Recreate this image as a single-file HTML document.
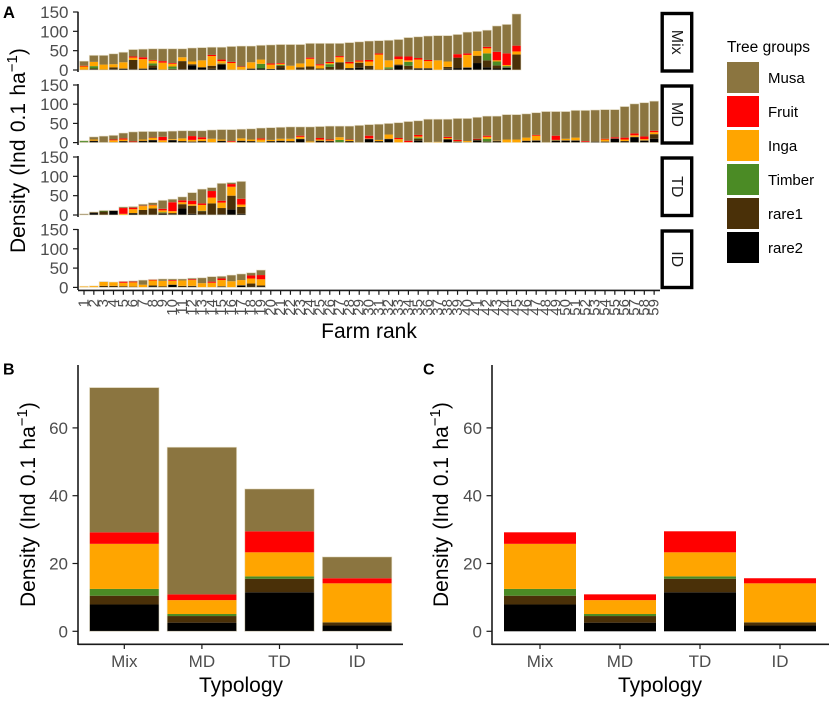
<!DOCTYPE html>
<html lang="en">
<head>
<meta charset="utf-8">
<title>Tree density by farm rank and typology</title>
<style>
html,body{margin:0;padding:0;background:#fff;width:829px;height:702px;overflow:hidden}
svg{display:block;font-family:"Liberation Sans",Arial,sans-serif}
</style>
</head>
<body>
<svg id="chart" xmlns="http://www.w3.org/2000/svg" width="829" height="702" viewBox="0 0 829 702"></svg>
<script>
// Series
const seriesNames = ['rare2','rare1','Timber','Inga','Fruit','Musa'];
const seriesColors = ['#000000','#4a3008','#4b8b25','#ffa500','#ff0000','#8b7540'];
const legendOrder = ['Musa','Fruit','Inga','Timber','rare1','rare2'];

// Panel A - Mix
const mixRare2 = [0,2,1,2,3,2,3,5,1,1,2,12,7,3,13,0,0,3,4,3,4,0,2,1,2,1,2,4,6,2,1,1,12,2,3,3,0,3,5,6,18,7,4,6,0];
const mixRare1 = [1,2,0,5,1,24,1,7,0,2,21,3,0,8,3,1,1,1,0,0,7,0,5,8,2,7,18,1,13,9,0,2,2,9,2,2,0,5,27,1,19,18,8,1,40];
const mixTimber = [0,6,0,0,0,0,0,5,0,6,0,0,0,0,1,0,0,0,12,0,2,0,0,0,0,7,0,0,0,0,0,4,0,10,0,0,0,0,0,0,0,18,10,3,0];
const mixInga = [8,11,13,8,16,6,24,7,18,7,10,7,18,25,6,17,7,16,11,11,3,11,10,20,8,3,13,12,3,11,39,18,14,4,22,18,25,14,0,32,12,13,3,3,8];
const mixFruit = [2,0,0,0,0,3,5,2,4,2,0,0,0,3,4,3,1,0,0,3,2,0,0,3,3,3,3,4,3,4,3,0,7,10,4,3,0,0,9,4,0,4,22,30,15];
const mixMusa = [12,17,24,27,26,18,21,29,32,37,22,35,33,20,32,40,53,42,37,48,48,55,49,37,54,48,33,50,48,49,33,52,44,49,55,62,64,67,51,55,51,43,67,75,82];

// Panel A - MD
const mdRare2 = [0,4,0,0,3,0,4,6,0,6,3,2,3,0,4,0,4,3,0,3,4,3,9,0,4,3,1,3,0,9,3,9,0,0,5,0,0,8,2,0,5,2,3,0,0,4,5,0,5,5,5,1,2,2,10,3,14,5,10];
const mdRare1 = [1,1,1,1,1,1,1,1,1,1,1,1,1,1,1,0,1,1,1,1,1,1,1,0,1,1,0,1,0,1,1,1,0,0,5,0,0,1,1,1,3,1,1,0,0,1,1,0,1,1,1,1,1,1,1,1,1,1,12];
const mdTimber = [3,0,0,0,0,0,0,0,0,0,0,0,0,0,0,0,0,0,1,0,0,0,0,0,0,0,6,0,0,0,0,0,0,0,3,0,0,0,0,0,0,7,0,0,0,0,0,0,0,0,0,0,0,0,0,0,0,0,0];
const mdInga = [0,3,0,5,4,0,3,5,5,2,7,4,5,9,3,2,6,4,6,3,5,6,5,3,3,2,7,3,0,1,3,11,9,1,3,1,2,3,1,3,0,5,1,8,8,8,12,0,1,4,7,0,0,5,0,4,4,3,5];
const mdFruit = [0,0,0,2,3,2,0,1,9,0,0,10,5,0,0,2,0,0,3,0,0,0,3,0,4,2,0,1,0,7,0,0,3,4,4,0,0,3,3,0,2,3,0,0,0,0,2,0,11,0,0,2,0,2,3,5,5,7,4];
const mdMusa = [1,7,16,11,14,25,21,16,14,21,20,14,17,23,26,30,24,28,27,32,30,31,23,38,30,35,29,35,45,29,41,29,40,50,37,60,59,46,56,59,56,51,64,65,65,62,58,81,63,71,71,80,82,76,72,81,77,88,77];

// Panel A - TD
const tdRare2 = [0,5,0,11,0,4,1,1,3,2,17,3,2,1,2,14,3];
const tdRare1 = [1,2,9,1,0,1,12,16,2,3,11,21,8,29,16,36,18];
const tdTimber = [0,0,2,0,0,0,0,0,2,0,0,0,1,0,0,0,0];
const tdInga = [0,0,0,0,3,10,10,8,5,5,5,4,15,15,14,23,6];
const tdFruit = [0,0,0,0,15,4,1,1,4,23,5,9,4,17,5,7,15];
const tdMusa = [2,1,1,0,3,3,4,6,22,8,9,21,37,9,45,4,45];

// Panel A - ID
const idRare2 = [0,0,0,0,0,0,0,3,0,7,0,2,0,0,2,0,4,2,3];
const idRare1 = [0,0,4,4,3,2,0,2,3,0,4,2,0,0,1,0,2,8,2];
const idTimber = [0,0,0,0,0,0,0,0,0,0,0,0,0,0,0,0,0,0,0];
const idInga = [3,4,10,10,9,11,7,13,14,10,14,15,11,12,16,16,13,13,16];
const idFruit = [0,0,0,0,3,2,0,2,0,2,0,2,0,3,4,0,0,8,11];
const idMusa = [0,0,1,0,1,2,12,1,5,3,4,3,14,13,6,16,16,7,13];

// Panels B and C - mean density by typology
const typologies = ['Mix','MD','TD','ID'];
const meanRare2 = [7.9,2.55,11.5,1.7];
const meanRare1 = [2.6,1.95,4,0.9];
const meanTimber = [2,0.6,0.7,0.05];
const meanInga = [13.3,4.1,7.1,11.5];
const meanFruit = [3.4,1.7,6.2,1.5];
const meanMusa = [42.7,43.4,12.5,6.3];

// Ticks
const facetTicks = [0,50,100,150];
const typologyTicks = [0,20,40,60];
const rankLabels = ['1','2','3','4','5','6','7','8','9','10','11','12','13','14','15','16','17','18','19','20','21','22','23','24','25','26','27','28','29','30','31','32','33','34','35','36','37','38','39','40','41','42','43','44','45','46','47','48','49','50','51','52','53','54','55','56','57','58','59'];

const svg = document.getElementById('chart');
const NS = 'http://www.w3.org/2000/svg';
const TICK_COLOR = '#4d4d4d';
const AXIS_COLOR = '#1a1a1a';

function make(tag, attrs, parent, text) {
  const el = document.createElementNS(NS, tag);
  for (const k in attrs) el.setAttribute(k, attrs[k]);
  if (text !== undefined) el.textContent = text;
  (parent || svg).appendChild(el);
  return el;
}
function label(name, attrs, text, parent) {
  const el = make('text', attrs, parent, text);
  
  
  return el;
}
function line(name, x1, y1, x2, y2, width, parent) {
  const el = make('line', {x1:x1, y1:y1, x2:x2, y2:y2, stroke:AXIS_COLOR, 'stroke-width':width}, parent);
  
  
  return el;
}
function group(name) {
  const g = make('g', {});
  
  
  return g;
}
function stackedBar(parent, stacks, i, xCenter, width, yScale, barName, outline) {
  const g = make('g', {}, parent);
  
  
  let cum = 0;
  stacks.forEach(function (values, s) {
    const v = values[i];
    if (v > 0) {
      const r = make('rect', {x:xCenter - width / 2, y:yScale(cum + v), width:width, height:yScale(cum) - yScale(cum + v), fill:seriesColors[s]}, g);
      
      
    }
    cum += v;
  });
  if (cum > 0) {
    const o = make('rect', {x:xCenter - width / 2, y:yScale(cum), width:width, height:yScale(0) - yScale(cum), fill:'none', stroke:outline, 'stroke-width':0.8}, g);
    
    
  }
}
function densityTitle(name, x, y) {
  const t = label(name, {x:x, y:y, 'font-size':21, 'word-spacing':1.5, fill:'#000', transform:'rotate(-90 ' + x + ' ' + y + ')'}, 'Density (Ind 0.1 ha');
  make('tspan', {dy:-8, 'font-size':15}, t, '\u22121');
  make('tspan', {dy:8}, t, ')');
}

// ---------- Panel A ----------
const facets = [
  {name:'Mix', stacks:[mixRare2,mixRare1,mixTimber,mixInga,mixFruit,mixMusa], zero:70, top:12, axisTop:11.7, axisBottom:72, stripTop:12, stripBottom:72.5},
  {name:'MD', stacks:[mdRare2,mdRare1,mdTimber,mdInga,mdFruit,mdMusa], zero:142.6, top:85, axisTop:84, axisBottom:145, stripTop:84.5, stripBottom:144.5},
  {name:'TD', stacks:[tdRare2,tdRare1,tdTimber,tdInga,tdFruit,tdMusa], zero:215, top:157, axisTop:156, axisBottom:217, stripTop:156.5, stripBottom:217},
  {name:'ID', stacks:[idRare2,idRare1,idTimber,idInga,idFruit,idMusa], zero:287.4, top:229.5, axisTop:229, axisBottom:290, stripTop:229.5, stripBottom:289}
];
const maxFacet = facetTicks[facetTicks.length - 1];
const rankX = function (i) { return 84 + i * 9.83; };

const panelA = group('panel-a');
label('panel-a-tag', {x:3, y:18, 'font-size':16.5, 'font-weight':'bold', fill:'#000'}, 'A', panelA);

facets.forEach(function (f) {
  const key = f.name.toLowerCase();
  const yScale = function (v) { return f.zero - v * (f.zero - f.top) / maxFacet; };
  const g = make('g', {}, panelA);
  
  
  f.stacks[0].forEach(function (_, i) {
    stackedBar(g, f.stacks, i, rankX(i), 9, yScale, key + '-bar-' + (i + 1), 'rgba(235,228,205,0.75)');
  });
  line(key + '-y-axis', 78, f.axisTop, 78, f.axisBottom, 1.6, g);
  facetTicks.forEach(function (t) {
    line(key + '-y-tick-' + t, 73, yScale(t), 78, yScale(t), 1.2, g);
    label(key + '-y-tick-label-' + t, {x:68.5, y:yScale(t) + 6, 'text-anchor':'end', 'font-size':17, fill:TICK_COLOR}, String(t), g);
  });
  const cx = 676.7, cy = (f.stripTop + f.stripBottom) / 2;
  const strip = make('rect', {x:662.2, y:f.stripTop + 1.5, width:29.5, height:f.stripBottom - f.stripTop - 3, fill:'#fff', stroke:'#000', 'stroke-width':3.4}, g);
  
  
  label('strip-label-' + key, {x:cx, y:cy, 'text-anchor':'middle', 'dominant-baseline':'central', 'font-size':16, fill:'#1a1a1a', transform:'rotate(90 ' + cx + ' ' + cy + ')'}, f.name, g);
});

line('panel-a-x-axis', 78, 290.4, 660, 290.4, 1.6, panelA);
rankLabels.forEach(function (t, i) {
  const x = rankX(i);
  line('x-tick-' + t, x, 290.4, x, 294.8, 1.2, panelA);
  label('x-tick-label-' + t, {x:x, y:299, 'text-anchor':'end', 'dominant-baseline':'central', 'font-size':15, fill:TICK_COLOR, transform:'rotate(-90 ' + x + ' 299)'}, t, panelA);
});
label('panel-a-x-title', {x:369, y:338, 'text-anchor':'middle', 'font-size':21, fill:'#000'}, 'Farm rank', panelA);
densityTitle('panel-a-y-title', 25, 253);

// ---------- Legend ----------
const legend = group('legend');
label('legend-title', {x:727, y:52, 'font-size':15.5, fill:'#000'}, 'Tree groups', legend);
legendOrder.forEach(function (name, i) {
  const s = seriesNames.indexOf(name);
  const y = 62 + i * 34;
  const sw = make('rect', {x:727, y:y, width:32, height:31, fill:seriesColors[s]}, legend);
  
  
  label('legend-label-' + name.toLowerCase(), {x:768, y:y + 21, 'font-size':15, fill:'#000'}, name, legend);
});

// ---------- Panels B and C ----------
const yB = function (v) { return 631.3 - v * 3.39; };

function typologyPanel(key, tag, tagX, axisX, rightX, firstCenter, step, barWidth, stacks, titleX, xTitleX) {
  const g = group('panel-' + key);
  label('panel-' + key + '-tag', {x:tagX, y:374.5, 'font-size':16, 'font-weight':'bold', fill:'#000'}, tag, g);
  typologies.forEach(function (name, i) {
    stackedBar(g, stacks, i, firstCenter + i * step, barWidth, yB, key + '-bar-' + name.toLowerCase(), 'rgba(235,228,205,0.7)');
  });
  line('panel-' + key + '-y-axis', axisX, 365, axisX, 645, 1.6, g);
  line('panel-' + key + '-x-axis', axisX, 644.3, rightX, 644.3, 1.6, g);
  typologyTicks.forEach(function (t) {
    line(key + '-y-tick-' + t, axisX - 5.5, yB(t), axisX, yB(t), 1.2, g);
    label(key + '-y-tick-label-' + t, {x:axisX - 10, y:yB(t) + 6, 'text-anchor':'end', 'font-size':17, fill:TICK_COLOR}, String(t), g);
  });
  typologies.forEach(function (name, i) {
    const x = firstCenter + i * step;
    line(key + '-x-tick-' + name.toLowerCase(), x, 644.3, x, 649, 1.2, g);
    label(key + '-x-tick-label-' + name.toLowerCase(), {x:x, y:667, 'text-anchor':'middle', 'font-size':17, fill:TICK_COLOR}, name, g);
  });
  label('panel-' + key + '-x-title', {x:xTitleX, y:692, 'text-anchor':'middle', 'font-size':21, fill:'#000'}, 'Typology', g);
  densityTitle('panel-' + key + '-y-title', titleX, 607);
}

typologyPanel('b', 'B', 3, 78, 403, 124.3, 77.6, 69.5,
  [meanRare2, meanRare1, meanTimber, meanInga, meanFruit, meanMusa], 35, 241);
typologyPanel('c', 'C', 423, 492, 829, 540, 80, 72,
  [meanRare2, meanRare1, meanTimber, meanInga, meanFruit, []], 448, 660);
</script>
</body>
</html>
